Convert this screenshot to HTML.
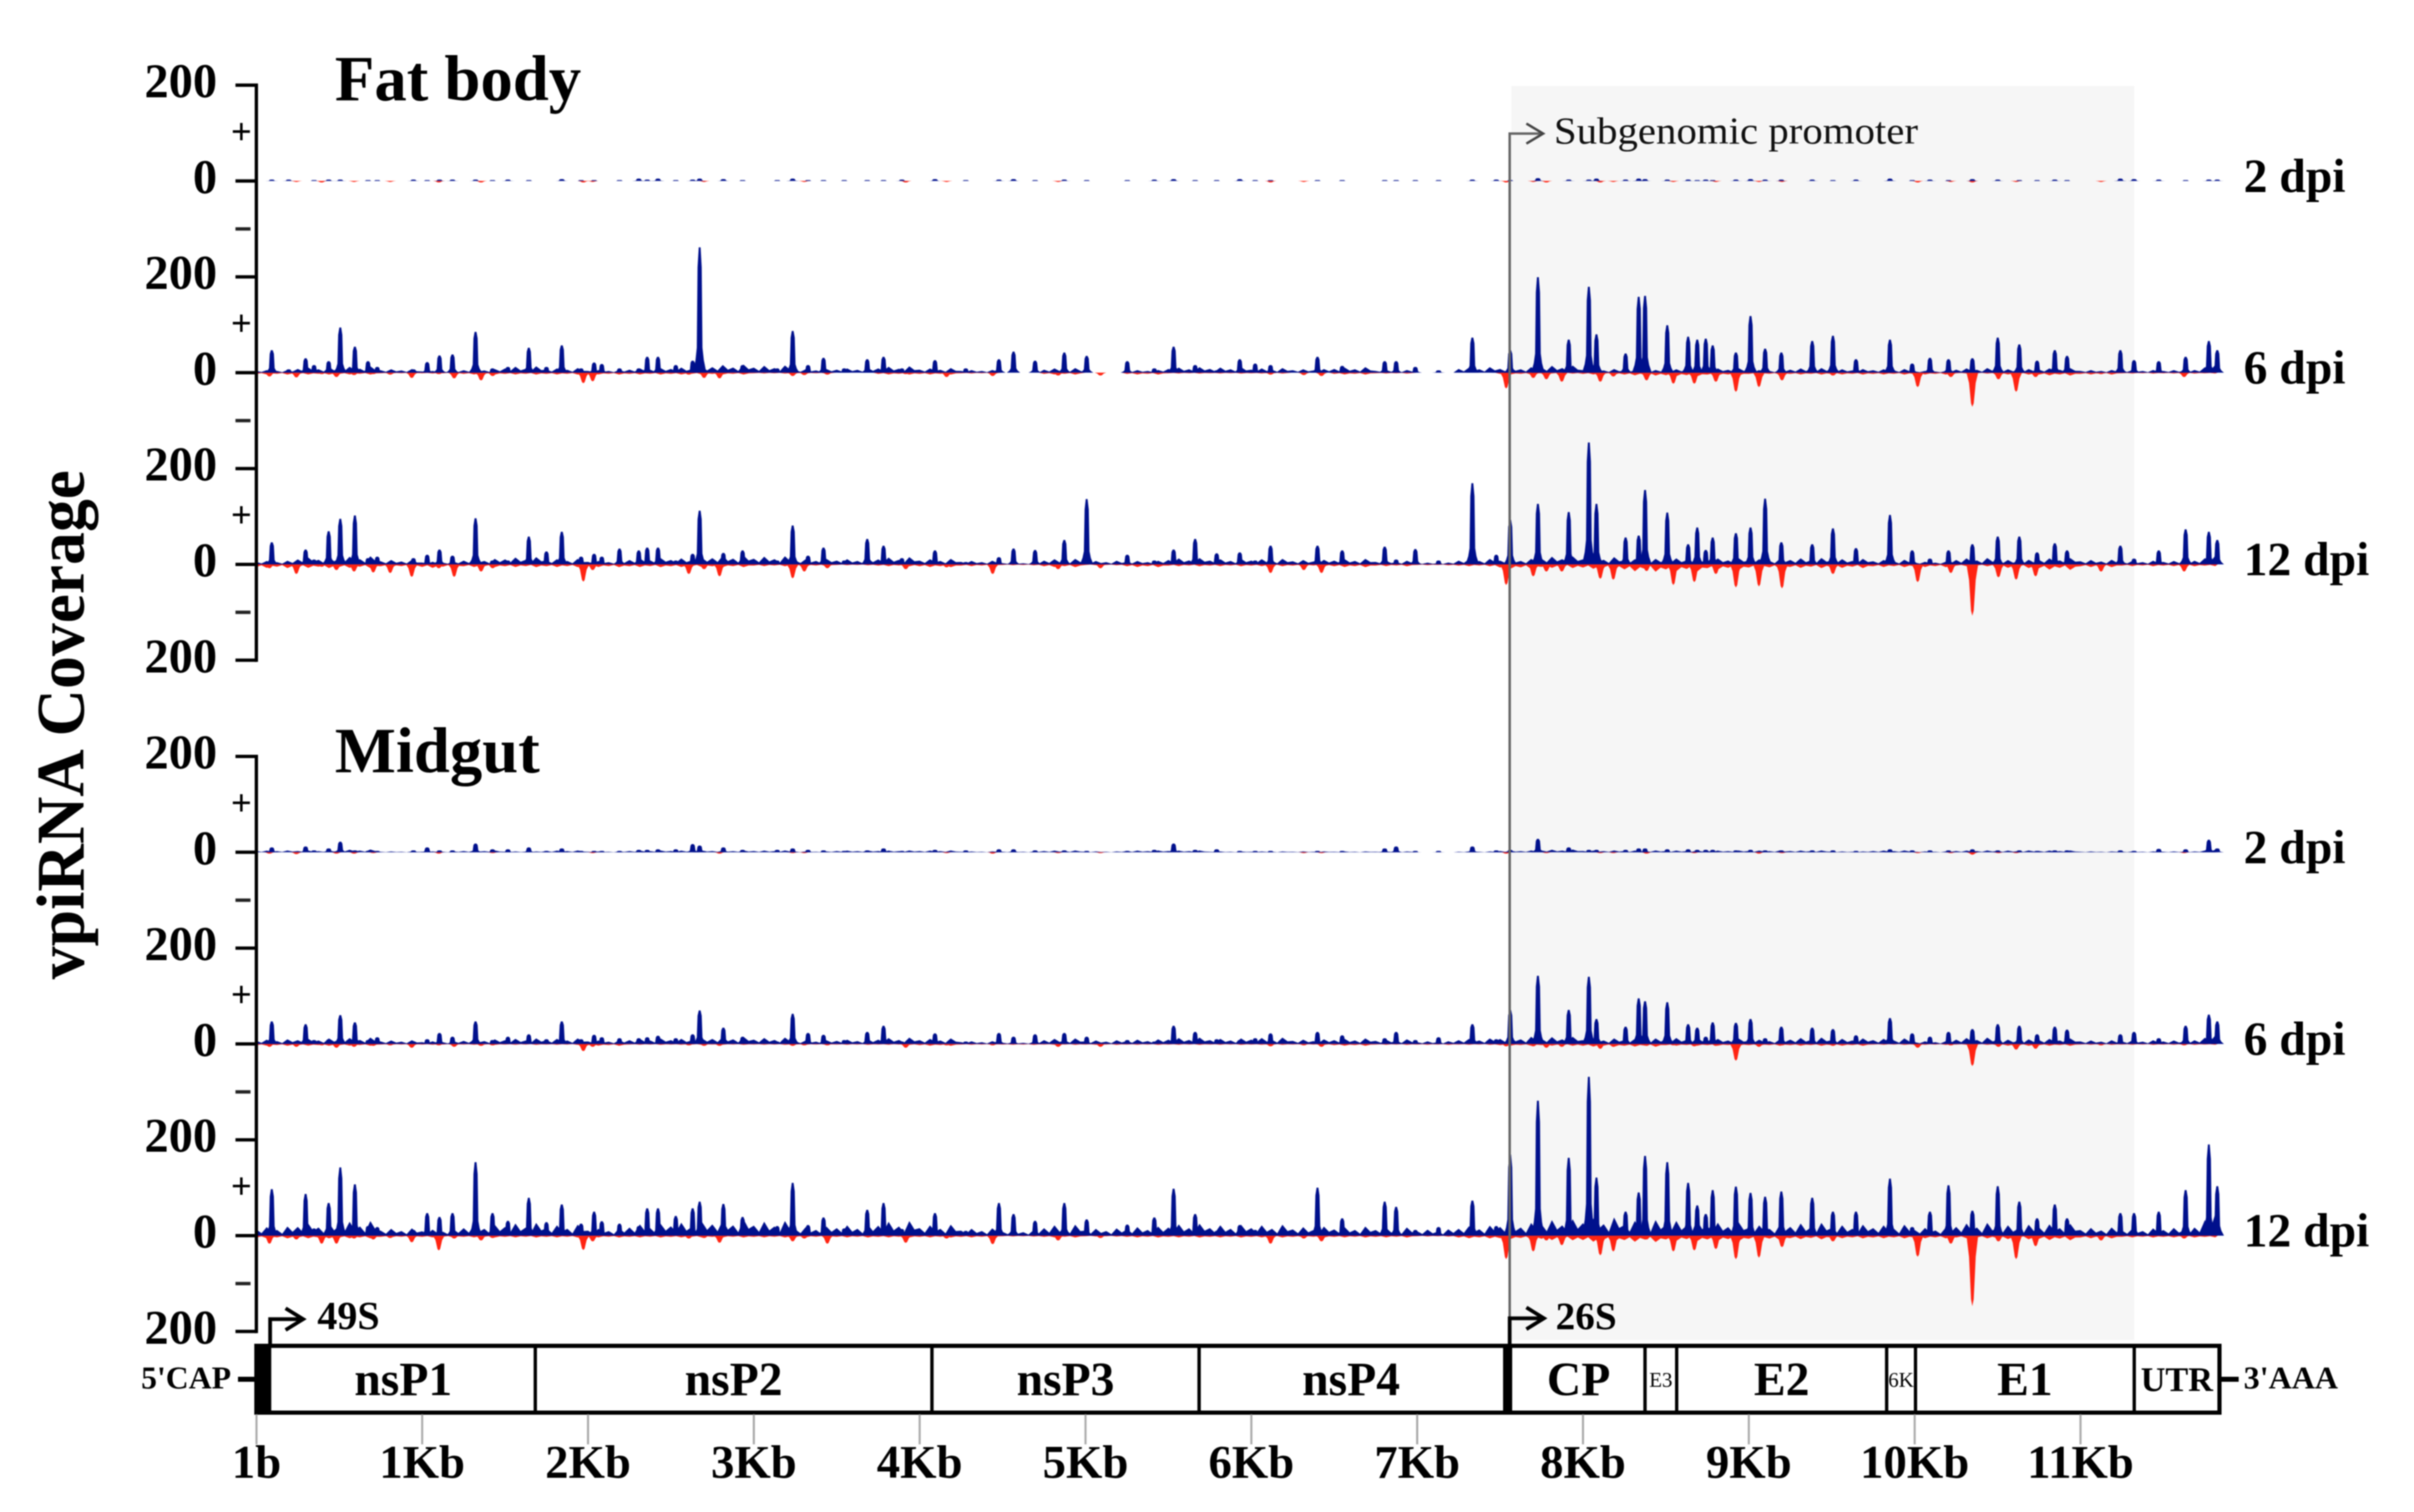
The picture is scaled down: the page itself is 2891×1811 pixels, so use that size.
<!DOCTYPE html>
<html lang="en">
<head>
<meta charset="utf-8">
<title>vpiRNA Coverage</title>
<style>
html,body{margin:0;padding:0;background:#fff;}
svg{display:block;filter:blur(0.8px);}
text{font-family:"Liberation Serif",serif;fill:#000;}
.b{font-weight:bold;}
</style>
</head>
<body>
<svg id="chart" xmlns="http://www.w3.org/2000/svg" width="2891" height="1811" viewBox="0 0 2891 1811">
  <rect x="0" y="0" width="2891" height="1811" fill="#fff"/>
  <rect x="1810" y="103" width="746" height="1502" fill="#f6f6f6"/>
  <g id="tracks"></g>
  <g id="axes"></g>
  <path d="M1808 1612V160H1847" fill="none" stroke="#666" stroke-width="3"/>
  <path d="M1828 148L1848 160L1828 172" fill="none" stroke="#444" stroke-width="3"/>
  <text x="1861" y="172" font-size="46" textLength="436" lengthAdjust="spacingAndGlyphs" style="fill:#111">Subgenomic promoter</text>
  <text class="b" x="401" y="120" font-size="77.5">Fat body</text>
  <text class="b" x="401" y="925" font-size="77.5">Midgut</text>
  <text class="b" font-size="82" text-anchor="middle" textLength="610" lengthAdjust="spacingAndGlyphs" transform="translate(100 868) rotate(-90)">vpiRNA Coverage</text>
  <g id="genome"></g>
  <path d="M323.5 1612V1580H362M342 1567L363 1580L342 1593" fill="none" stroke="#000" stroke-width="4.5"/>
  <text class="b" x="380" y="1592" font-size="48">49S</text>
  <path d="M1808 1612V1579H1848M1828 1566L1849 1579L1828 1592" fill="none" stroke="#000" stroke-width="4.5"/>
  <text class="b" x="1863" y="1592" font-size="47">26S</text>
  <text class="b" x="169" y="1663" font-size="38">5'CAP</text>
  <rect x="285" y="1649" width="22" height="6" fill="#000"/>
  <text class="b" x="2687" y="1663" font-size="38" textLength="113" lengthAdjust="spacingAndGlyphs">3'AAA</text>
  <rect x="2660" y="1649" width="21" height="6" fill="#000"/>
</svg>
<script>
// Hotspot positions on the genome (nucleotides), plus strand
const hotspotNt = [
  93,195,297,348,436,506,594,673,729,947,
  1030,1104,1183,1322,1424,1517,1643,1749,1842,1958,
  2037,2083,2190,2306,2357,2422,2529,2631,2673,2816,
  2932,3141,3234,3327,3420,3545,3684,3782,3893,4092,
  4278,4478,4566,4696,4872,5007,5252,5415,5531,5661,
  5791,5930,6023,6116,6399,6548,6804,6873,6989,7129,
  7333,7477,7561,7728,7914,8035,8081,8257,8336,8374,
  8508,8634,8689,8740,8782,8922,9010,9098,9196,9382,
  9507,9646,9851,9985,10092,10204,10348,10501,10631,10738,
  10845,10919,11240,11323,11472,11634,11774,11825];

// Hotspot positions on the genome (nucleotides), minus strand
const minusNt = [
  79,241,394,483,589,705,807,937,1100,1193,
  1355,1425,1972,2028,2608,2700,2793,3234,3304,3443,
  3916,4162,4440,4835,5090,6116,6316,6423,7537,7700,
  7779,7872,8104,8183,8383,8545,8671,8801,8922,9061,
  9200,9507,10018,10218,10348,10505,10612,10729,11124,11625];

const fat2Plus = [
  3,3,0,2,3,3,0,2,2,3,
  2,3,3,3,2,3,2,0,4,2,
  2,0,2,5,3,5,2,3,5,4,
  2,2,5,2,2,2,2,2,3,4,
  2,3,4,2,3,2,2,3,4,2,
  2,4,2,2,2,2,2,2,2,2,
  3,3,2,6,3,3,5,3,5,4,
  3,3,2,3,2,3,4,3,3,3,
  2,3,5,2,3,2,4,3,2,2,
  3,2,5,4,3,2,3,3];
const fat6Plus = [
  47,7,30,16,24,94,54,24,12,7,
  22,36,38,85,9,12,52,12,57,9,
  21,18,9,9,33,33,16,25,261,12,
  16,9,87,16,31,9,28,33,9,26,
  9,28,44,25,42,35,24,9,54,16,
  5,28,19,16,33,14,24,24,12,5,
  73,5,47,199,69,179,80,40,158,160,
  99,75,69,71,57,42,118,50,42,66,
  77,28,69,19,31,28,30,73,59,25,
  47,35,47,26,24,33,66,47];
const fat12Plus = [
  46,5,31,10,69,95,102,13,16,13,
  20,31,18,96,8,8,58,27,68,16,
  22,16,33,29,35,35,8,22,112,24,
  29,8,81,18,35,8,53,39,13,29,
  5,15,33,30,51,136,20,8,31,53,
  23,25,8,39,39,29,37,10,32,8,
  169,20,93,126,109,254,126,56,60,155,
  108,42,77,30,56,65,77,137,46,42,
  75,34,103,29,12,29,42,58,58,25,
  44,29,39,12,29,73,68,51];
const mid2Plus = [
  10,0,12,4,8,22,4,3,3,4,
  10,4,4,18,6,6,10,3,8,3,
  3,3,3,5,5,6,6,17,14,10,
  5,5,8,5,4,3,4,8,3,5,
  4,6,6,4,4,3,3,5,18,5,
  6,3,3,3,3,3,8,12,3,3,
  12,4,5,28,10,5,5,5,8,8,
  6,6,5,5,5,4,5,4,4,4,
  4,3,6,4,4,4,6,4,4,3,
  4,4,4,3,7,6,26,8];
const mid6Plus = [
  47,5,41,8,10,60,45,8,14,5,
  10,23,15,47,8,15,20,10,47,10,
  19,14,12,12,14,17,12,20,70,34,
  15,5,63,23,19,8,25,38,5,22,
  5,23,15,20,23,15,8,5,38,25,
  10,8,12,22,25,18,12,25,8,14,
  41,10,71,142,71,140,52,36,95,89,
  87,41,34,15,45,44,52,12,36,34,
  31,18,54,22,15,25,31,41,38,20,
  36,30,20,25,12,38,61,47];
const mid12Plus = [
  97,8,87,15,68,142,107,20,18,12,
  47,39,47,153,47,31,79,28,65,25,
  50,30,25,20,57,57,41,57,71,66,
  39,20,110,22,38,15,54,68,14,47,
  10,68,45,31,68,34,23,38,98,45,
  10,22,12,11,100,36,71,60,12,18,
  73,20,169,281,162,331,121,50,90,166,
  153,110,63,45,95,102,89,81,92,79,
  50,50,119,18,50,105,52,103,71,36,
  65,36,47,47,50,95,190,103];

const fat2Minus = [
  0,2,3,0,2,0,2,0,3,0,
  3,0,3,2,0,2,0,0,2,0,
  3,2,0,2,0,3,2,0,3,2,
  3,0,3,2,0,2,0,2,0,2,
  2,0,3,2,3,0,2,0,2,0];
const fat6Minus = [
  8,10,3,9,5,3,4,11,3,12,
  16,7,22,18,4,11,12,7,5,4,
  3,9,7,6,6,4,5,7,33,11,
  14,19,19,8,16,23,23,19,40,30,
  16,6,30,9,71,14,40,9,3,9];
const fat12Minus = [
  8,20,5,12,15,17,18,26,8,26,
  15,8,36,12,20,10,25,29,15,8,
  10,6,20,10,8,18,12,18,43,25,
  15,15,30,32,14,43,37,20,48,46,
  50,20,37,18,107,27,32,25,15,15];
const mid2Minus = [
  3,4,0,3,3,2,0,0,3,0,
  0,2,0,2,0,0,3,2,2,0,
  0,2,3,2,2,0,2,2,3,0,
  2,0,2,2,3,0,2,0,0,3,
  2,0,2,2,5,2,2,0,0,2];
const mid6Minus = [
  6,6,3,8,6,4,3,8,3,6,
  4,3,15,6,3,4,4,4,3,3,
  8,3,3,6,6,5,3,6,5,5,
  8,6,10,6,4,3,5,4,35,6,
  3,4,8,3,46,6,12,10,3,3];
const mid12Minus = [
  17,8,17,17,6,8,5,14,31,6,
  10,5,30,12,6,5,15,12,6,17,
  15,6,18,10,5,17,6,12,49,33,
  10,20,41,33,8,33,31,28,49,46,
  24,12,44,17,147,12,49,22,10,6];

// Background coverage in consecutive 250 nt bins
const binSizeNt = 250;
const fat2FloorPlus = [];
const fat2FloorMinus = [];
const fat6FloorPlus = [3,6,7,4,2,4,7,5,3,5,6,9,8,4,5,7,5,3,0,5,0,3,6,6,5,4,6,3,0,6,6,8,4,3,4,5,3,5,4,4,2,5,4,5,3,3,3,9];
const fat6FloorMinus = [2,2,2,1,1,2,2,2,2,2,2,2,1,1,0,2,2,1,0,2,0,2,1,1,1,0,2,1,0,0,2,1,2,3,4,3,2,2,2,2,2,1,2,3,2,1,1,1];
const fat12FloorPlus = [4,8,9,5,3,6,8,6,4,7,7,10,9,6,6,8,6,4,2,6,4,4,7,6,6,5,6,4,2,6,6,9,8,6,7,7,6,7,6,5,3,7,5,7,5,4,4,10];
const fat12FloorMinus = [4,4,4,3,4,3,3,3,3,3,3,3,2,2,1,2,3,2,1,3,1,3,2,2,2,2,3,2,1,2,5,4,5,8,8,6,5,4,4,3,3,2,4,6,3,2,2,2];
const mid2FloorPlus = [2,2,3,1,1,2,1,2,1,2,2,2,2,1,2,2,2,1,1,2,1,2,2,1,1,1,1,1,0,1,2,3,2,2,2,2,2,2,1,2,1,2,2,2,1,1,1,3];
const mid2FloorMinus = [];
const mid6FloorPlus = [5,6,7,4,3,5,6,6,4,6,6,8,7,4,5,7,6,3,2,6,4,5,7,6,7,5,6,5,3,6,8,8,6,6,7,6,5,7,6,6,3,7,5,6,4,4,4,10];
const mid6FloorMinus = [2,2,2,1,1,1,1,1,2,1,1,1,1,1,1,1,2,1,1,1,1,1,1,1,1,1,2,1,1,1,2,2,3,3,2,2,2,2,2,1,1,1,2,2,1,1,1,1];
const mid12FloorPlus = [10,14,16,8,7,12,14,12,8,13,15,18,16,10,12,16,12,8,6,12,8,10,13,12,12,10,10,9,7,11,14,18,20,17,17,15,12,14,12,12,9,14,12,13,9,8,9,25];
const mid12FloorMinus = [3,3,3,2,2,2,2,2,2,2,2,2,2,2,2,2,2,2,1,2,1,2,2,2,2,2,2,2,1,3,4,5,7,7,6,6,5,4,3,3,3,3,4,5,3,2,2,2];

const panelNames = ['fat-body','midgut'];
const dpiLabels = ['2 dpi','6 dpi','12 dpi'];
const plusSeries = [[fat2Plus,fat6Plus,fat12Plus],[mid2Plus,mid6Plus,mid12Plus]];
const minusSeries = [[fat2Minus,fat6Minus,fat12Minus],[mid2Minus,mid6Minus,mid12Minus]];
const floorPlusSeries = [[fat2FloorPlus,fat6FloorPlus,fat12FloorPlus],[mid2FloorPlus,mid6FloorPlus,mid12FloorPlus]];
const floorMinusSeries = [[fat2FloorMinus,fat6FloorMinus,fat12FloorMinus],[mid2FloorMinus,mid6FloorMinus,mid12FloorMinus]];

const yTickLabels = ['200','0','200','0','200','0','200'];
const xTickNt = [1,1000,2000,3000,4000,5000,6000,7000,8000,9000,10000,11000];
const xTickLabels = ['1b','1Kb','2Kb','3Kb','4Kb','5Kb','6Kb','7Kb','8Kb','9Kb','10Kb','11Kb'];

const geneNames = ['nsP1','nsP2','nsP3','nsP4','CP','E3','E2','6K','E1','UTR'];
const geneStartNt = [90,1682,4074,5685,7573,8374,8565,9831,10005,11324];
const genomeEndNt = 11838;
const stopCodonStartNt = 7518;

const SVG_NS = 'http://www.w3.org/2000/svg';
const BLUE = '#00108c';
const RED = '#ff2412';
// Relative height of the bumps drawn inside one background bin
const BUMP_PROFILE = [1.3,0.5,1.8,0.7,1.2,0.4,1.9,0.8];

function xScale(nt){ return 307 + nt * 0.1986; }
function panelTop(panel){ return panel === 0 ? 102 : 906; }
function axisY(panel, step){ return panelTop(panel) + step * 114.8; }
function zeroY(panel, track){ return axisY(panel, 1 + track * 2); }
function valuePx(v){ return v * 0.575; }

function make(tag, attrs, text){
  const el = document.createElementNS(SVG_NS, tag);
  for (const k in attrs) el.setAttribute(k, attrs[k]);
  if (text !== undefined) el.textContent = text;
  return el;
}

function plusPeakPath(nt, v, zero){
  const x = xScale(nt);
  const h = valuePx(v);
  const y = f => (zero - h * f).toFixed(1);
  const pts = [[-8,0],[-5,0.1],[-3.4,0.2],[-2.5,0.84],[-1.1,1],[1.1,1],[2.5,0.84],[3.4,0.2],[5,0.1],[8,0]];
  return 'M' + pts.map(p => (x + p[0]).toFixed(1) + ' ' + y(p[1])).join('L') + 'Z';
}

function minusPeakPath(nt, v, zero){
  const x = xScale(nt);
  const h = valuePx(v);
  const y = f => (zero + h * f).toFixed(1);
  const pts = [[-7,0],[-4,0.3],[-1.6,0.9],[0,1],[1.6,0.9],[4,0.3],[7,0]];
  return 'M' + pts.map(p => (x + p[0]).toFixed(1) + ' ' + y(p[1])).join('L') + 'Z';
}

function floorPath(values, zero, dir){
  if (!values.length) return '';
  let d = 'M' + xScale(0).toFixed(1) + ' ' + zero.toFixed(1);
  values.forEach(function(v, i){
    BUMP_PROFILE.forEach(function(f, j){
      const nt = (i + j / BUMP_PROFILE.length) * binSizeNt;
      if (nt > genomeEndNt - 10) return;
      d += 'L' + xScale(nt).toFixed(1) + ' ' + (zero - valuePx(v * f) * dir).toFixed(1);
    });
  });
  const lastNt = Math.min(values.length * binSizeNt, genomeEndNt - 10);
  d += 'L' + xScale(lastNt).toFixed(1) + ' ' + zero.toFixed(1) + 'Z';
  return d;
}

const tracksGroup = document.getElementById('tracks');
const axesGroup = document.getElementById('axes');
const genomeGroup = document.getElementById('genome');
const svgRoot = document.getElementById('chart');

panelNames.forEach(function(panelName, panel){
  dpiLabels.forEach(function(dpi, track){
    const zero = zeroY(panel, track);
    const g = make('g', {});
    
    

    const floorM = make('path', {d: floorPath(floorMinusSeries[panel][track], zero, -1), fill: RED});
    
    
    g.appendChild(floorM);

    minusSeries[panel][track].forEach(function(v, i){
      if (!v) return;
      const p = make('path', {d: minusPeakPath(minusNt[i], v, zero), fill: RED});
      
      
      g.appendChild(p);
    });

    const floorP = make('path', {d: floorPath(floorPlusSeries[panel][track], zero, 1), fill: BLUE});
    
    
    g.appendChild(floorP);

    plusSeries[panel][track].forEach(function(v, i){
      if (!v) return;
      const p = make('path', {d: plusPeakPath(hotspotNt[i], v, zero), fill: BLUE});
      
      
      g.appendChild(p);
    });
    tracksGroup.appendChild(g);

    const label = make('text', {x: 2687, y: zero + 13, 'font-size': 57, 'class': 'b'}, dpi);
    
    
    svgRoot.appendChild(label);

    const plusSign = make('text', {x: 289, y: axisY(panel, track * 2 + 0.5) + 13, 'font-size': 44, 'text-anchor': 'middle', 'class': 'b'}, '+');
    
    
    axesGroup.appendChild(plusSign);

    const minusSign = make('rect', {x: 282, y: axisY(panel, track * 2 + 1.5) - 2, width: 18, height: 4, fill: '#222'});
    
    
    axesGroup.appendChild(minusSign);
  });

  const axis = make('line', {x1: 307, x2: 307, y1: axisY(panel, 0) - 2, y2: axisY(panel, 6) + 2, stroke: '#000', 'stroke-width': 4});
  
  
  axesGroup.appendChild(axis);

  yTickLabels.forEach(function(lbl, i){
    const y = axisY(panel, i);
    const tick = make('line', {x1: 282, x2: 307, y1: y, y2: y, stroke: '#000', 'stroke-width': 4});
    
    
    axesGroup.appendChild(tick);
    const t = make('text', {x: 260, y: y + 14.5, 'font-size': 58, 'text-anchor': 'end', 'class': 'b'}, lbl);
    
    
    axesGroup.appendChild(t);
  });
});

// Genome map
const boxTop = 1612, boxBottom = 1692;
const box = make('rect', {x: xScale(0), y: boxTop, width: xScale(genomeEndNt) - xScale(0), height: boxBottom - boxTop, fill: '#fff', stroke: '#000', 'stroke-width': 5});


genomeGroup.appendChild(box);

const capBlock = make('rect', {x: xScale(0), y: boxTop - 2, width: xScale(geneStartNt[0]) - xScale(0), height: boxBottom - boxTop + 4, fill: '#000'});


genomeGroup.appendChild(capBlock);

const junctionBlock = make('rect', {x: xScale(stopCodonStartNt), y: boxTop - 2, width: xScale(geneStartNt[4]) - xScale(stopCodonStartNt), height: boxBottom - boxTop + 4, fill: '#000'});


genomeGroup.appendChild(junctionBlock);

geneNames.forEach(function(name, i){
  const start = geneStartNt[i];
  const end = i + 1 < geneStartNt.length ? geneStartNt[i + 1] : genomeEndNt;
  if (i > 0 && name !== 'CP') {
    const div = make('line', {x1: xScale(start), x2: xScale(start), y1: boxTop, y2: boxBottom, stroke: '#000', 'stroke-width': 4});
    
    
    genomeGroup.appendChild(div);
  }
  const small = name === 'E3' || name === '6K';
  const size = small ? 25 : (name === 'UTR' ? 41 : 57);
  const base = small ? 1661 : (name === 'UTR' ? 1666 : 1671);
  const labelEnd = name === 'nsP4' ? stopCodonStartNt : end;
  const label = make('text', {x: (xScale(start) + xScale(labelEnd)) / 2, y: base, 'font-size': size, 'text-anchor': 'middle', 'class': small ? '' : 'b'}, name);
  
  
  genomeGroup.appendChild(label);
});

xTickNt.forEach(function(nt, i){
  const tick = make('line', {x1: xScale(nt), x2: xScale(nt), y1: boxBottom + 2, y2: 1730, stroke: '#aaa', 'stroke-width': 2.5});
  
  
  genomeGroup.appendChild(tick);
  const label = make('text', {x: xScale(nt), y: 1770, 'font-size': 56, 'text-anchor': 'middle', 'class': 'b'}, xTickLabels[i]);
  
  
  genomeGroup.appendChild(label);
});
</script>
</body>
</html>
